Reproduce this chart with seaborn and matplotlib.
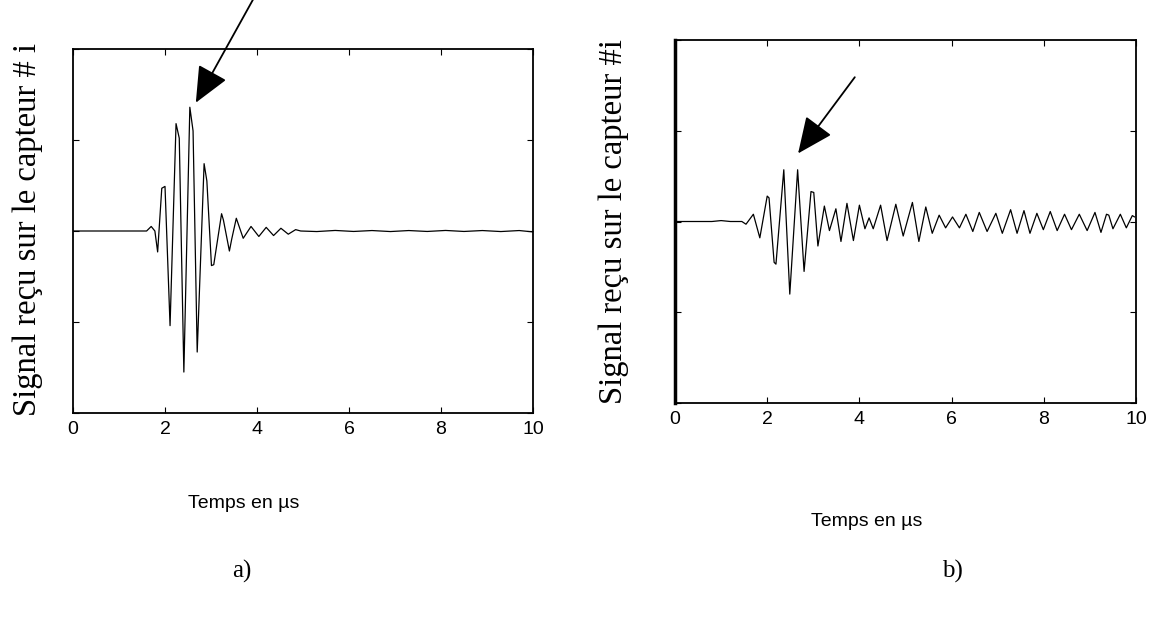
import matplotlib
matplotlib.use("Agg")
import matplotlib.pyplot as plt
import seaborn as sns

# signal a) : clean pulse (time in µs, amplitude arbitrary)
t_a = [0, 1.60, 1.70, 1.78, 1.84, 1.93, 2.00, 2.11, 2.24, 2.31, 2.41, 2.54, 2.61,
       2.70, 2.85, 2.91, 3.01, 3.06, 3.23, 3.27, 3.40, 3.45, 3.55, 3.70, 3.87, 4.04,
       4.20, 4.36, 4.52, 4.68, 4.84, 4.95, 5.3, 5.7, 6.1, 6.5, 6.9, 7.3, 7.7, 8.1,
       8.5, 8.9, 9.3, 9.7, 10.0]
sig_a = [0, 0, 0.05, 0.0, -0.23, 0.47, 0.49, -1.04, 1.18, 1.02, -1.55, 1.36, 1.10,
         -1.33, 0.74, 0.55, -0.38, -0.37, 0.19, 0.12, -0.22, -0.09, 0.14, -0.08, 0.05,
         -0.06, 0.04, -0.05, 0.03, -0.035, 0.015, 0.0, -0.006, 0.006, -0.005, 0.005,
         -0.006, 0.005, -0.005, 0.006, -0.005, 0.005, -0.006, 0.005, -0.01]

# signal b) : pulse followed by a long ringing tail
t_b = [0, 0.8, 1.0, 1.2, 1.45, 1.54, 1.70, 1.84, 2.00, 2.04, 2.15, 2.19, 2.36, 2.49,
       2.66, 2.80, 2.95, 3.01, 3.10, 3.24, 3.35, 3.49, 3.60, 3.73, 3.87, 4.00, 4.12,
       4.21, 4.30, 4.46, 4.60, 4.79, 4.95, 5.15, 5.29, 5.44, 5.58, 5.73, 5.87, 6.02,
       6.17, 6.31, 6.46, 6.60, 6.77, 6.96, 7.10, 7.28, 7.42, 7.57, 7.70, 7.85, 7.99,
       8.14, 8.29, 8.45, 8.60, 8.77, 8.94, 9.11, 9.24, 9.36, 9.41, 9.50, 9.66, 9.79,
       9.92, 9.97]
sig_b = [0, 0, 0.01, 0, 0, -0.03, 0.08, -0.18, 0.28, 0.26, -0.45, -0.47, 0.57, -0.80,
         0.57, -0.55, 0.33, 0.32, -0.27, 0.17, -0.10, 0.14, -0.22, 0.20, -0.21, 0.18,
         -0.08, 0.04, -0.08, 0.18, -0.21, 0.19, -0.16, 0.21, -0.22, 0.16, -0.13, 0.07,
         -0.07, 0.05, -0.07, 0.08, -0.11, 0.10, -0.11, 0.09, -0.13, 0.13, -0.13, 0.12,
         -0.13, 0.09, -0.09, 0.11, -0.10, 0.08, -0.09, 0.08, -0.10, 0.10, -0.12, 0.08,
         0.07, -0.08, 0.08, -0.07, 0.065, 0.05]

x_ticks = [0, 2, 4, 6, 8, 10]
y_ticks = [-2, -1, 0, 1, 2]

sns.set_style("white")
plt.rcParams['font.family'] = ['Liberation Sans', 'DejaVu Sans']
plt.rcParams['text.color'] = 'black'

W, H = 1153, 618
fig = plt.figure(figsize=(W / 100, H / 100), dpi=100)


def px(x, y):
    # pixel position (from top-left) -> figure fraction
    return x / W, 1 - y / H


ax1 = fig.add_axes([73 / W, 1 - 413 / H, 460 / W, 364 / H])
ax2 = fig.add_axes([675 / W, 1 - 403 / H, 461 / W, 363 / H])

sns.lineplot(x=t_a, y=sig_a, ax=ax1, color='black', lw=0.9, sort=False)
sns.lineplot(x=t_b, y=sig_b, ax=ax2, color='black', lw=0.9, sort=False)

for ax in (ax1, ax2):
    ax.set_xlim(0, 10)
    ax.set_ylim(-2, 2)
    ax.set_xticks(x_ticks)
    ax.set_yticks(y_ticks)
    ax.set_yticklabels([])
    ax.tick_params(direction='in', length=4, width=0.8, top=True, right=True,
                   left=True, bottom=True, labelsize=14, pad=6, colors='black',
                   labelcolor='black')
    for s in ax.spines.values():
        s.set_visible(True)
        s.set_color('black')
        s.set_linewidth(1.3)
    ax.set_xlabel('')
    ax.set_ylabel('')
ax2.spines['left'].set_linewidth(2.5)

# arrows pointing at the main peak
arrow = dict(arrowstyle='-|>,head_length=0.9,head_width=0.4', color='black',
             lw=1.3, mutation_scale=25, shrinkA=0, shrinkB=0)
ax1.annotate('', xy=(2.67, 1.41), xytext=(3.91, 2.54), arrowprops=arrow,
             annotation_clip=False)
ax2.annotate('', xy=(2.67, 0.75), xytext=(3.90, 1.59), arrowprops=arrow,
             annotation_clip=False)

serif = ['Liberation Serif', 'DejaVu Serif']
fig.text(*px(28, 230), 'Signal reçu sur le capteur # i', rotation=90,
         ha='center', va='center', fontsize=23.5, family=serif)
fig.text(*px(614, 222), 'Signal reçu sur le capteur #i', rotation=90,
         ha='center', va='center', fontsize=23.5, family=serif)

fig.text(*px(244, 503), 'Temps en µs', ha='center', va='center', fontsize=14)
fig.text(*px(867, 522), 'Temps en µs', ha='center', va='center', fontsize=14)

fig.text(*px(242, 571), 'a)', ha='center', va='center', fontsize=18, family=serif)
fig.text(*px(952, 571), 'b)', ha='center', va='center', fontsize=18, family=serif)

fig.savefig('out.png', dpi=100, facecolor='white')
